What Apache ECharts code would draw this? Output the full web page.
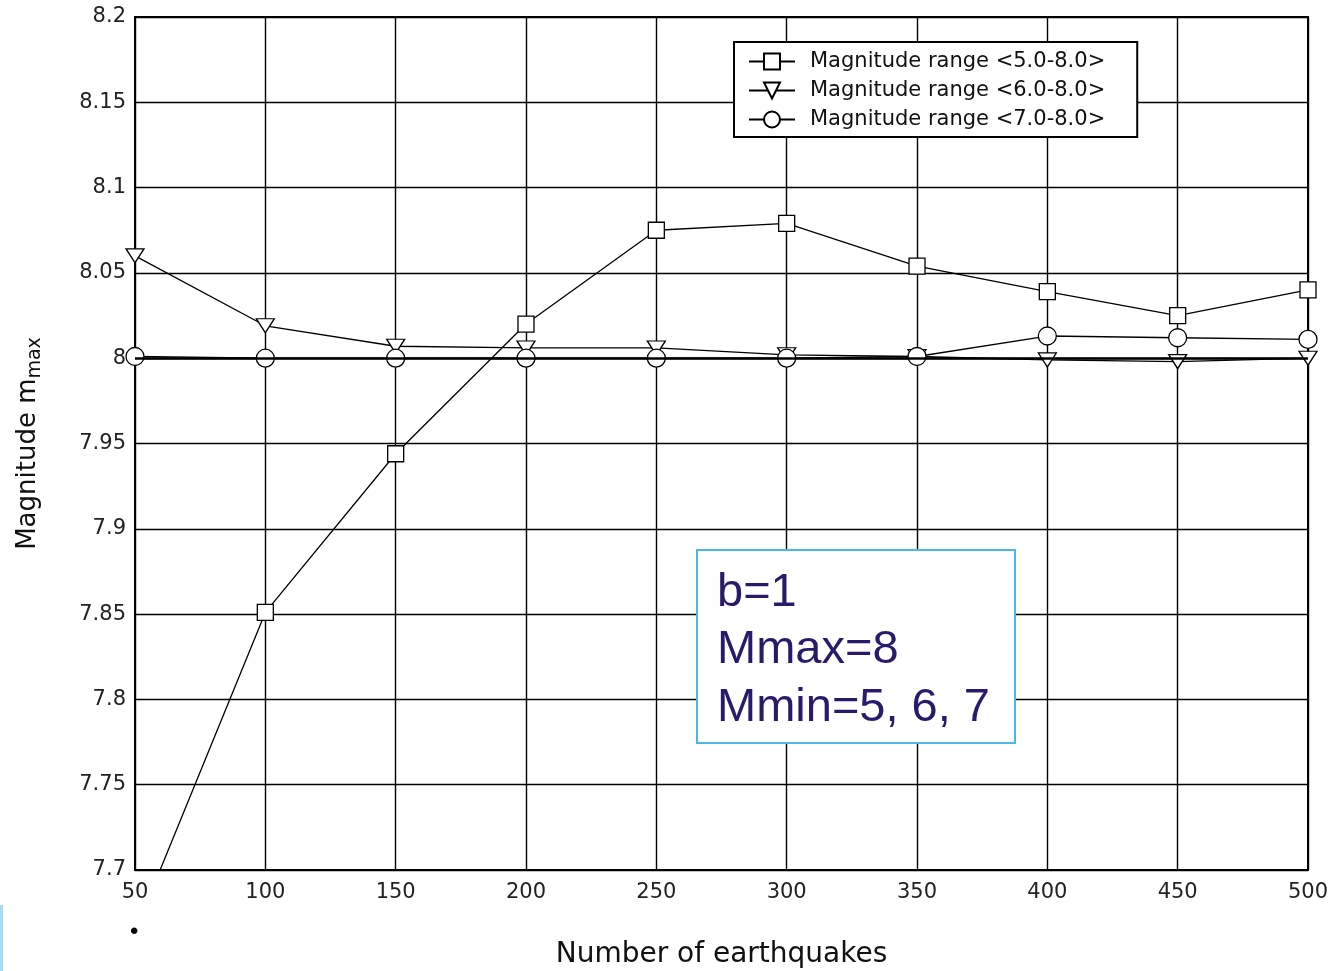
<!DOCTYPE html>
<html><head><meta charset="utf-8">
<script src="https://cdn.jsdelivr.net/npm/echarts@6/dist/echarts.min.js"></script>
<style>html,body{margin:0;padding:0;background:#fff}#c{width:1333px;height:971px}</style>
</head><body><div id="c"></div>
<script>
const xCategories = [50, 100, 150, 200, 250, 300, 350, 400, 450, 500];
const range5 = [7.664, 7.851, 7.944, 8.020, 8.075, 8.079, 8.054, 8.039, 8.025, 8.040];
const range6 = [8.060, 8.019, 8.007, 8.006, 8.006, 8.002, 8.001, 7.999, 7.998, 8.000];
const range7 = [8.001, 8.000, 8.000, 8.000, 8.000, 8.000, 8.001, 8.013, 8.012, 8.011];
const seriesNames = ['Magnitude range <5.0-8.0>', 'Magnitude range <6.0-8.0>', 'Magnitude range <7.0-8.0>'];
const trueMmax = 8;
const noteLines = ['b=1', 'Mmax=8', 'Mmin=5, 6, 7'];

const F = 'DejaVu Sans, Verdana, sans-serif';
const FA = 'Liberation Sans, Arial, sans-serif';
const pair = arr => arr.map((v, i) => [xCategories[i], v]);
const mk = (name, data, symbol, size) => ({
  name, type: 'line', data: pair(data), symbol, symbolSize: size, clip: true,
  lineStyle: { color: '#000', width: 1.3 },
  itemStyle: { color: '#fff', borderColor: '#000', borderWidth: 1.3 },
  emphasis: { disabled: true }, z: 3
});
const chart = echarts.init(document.getElementById('c'));
const s1 = mk(seriesNames[0], range5, 'rect', 16);
s1.markLine = { silent: true, symbol: 'none', label: { show: false },
  lineStyle: { color: '#000', width: 2.5, type: 'solid' }, data: [{ yAxis: trueMmax }] };
chart.setOption({
  animation: false,
  backgroundColor: '#fff',
  textStyle: { fontFamily: F },
  grid: { left: 135, right: 25, top: 17, bottom: 101, containLabel: false, outerBoundsMode: 'none',
    show: true, borderColor: '#000', borderWidth: 2, backgroundColor: 'transparent' },
  xAxis: {
    type: 'value', min: 50, max: 500, interval: 50,
    name: 'Number of earthquakes', nameLocation: 'middle', nameGap: 71,
    nameTextStyle: { fontSize: 28, color: '#111', fontFamily: F },
    axisLine: { show: true, lineStyle: { color: '#000', width: 2 } },
    axisTick: { show: false },
    axisLabel: { fontSize: 21, color: '#222', margin: 12, fontFamily: F },
    splitLine: { show: true, lineStyle: { color: '#000', width: 1.4 } }
  },
  yAxis: {
    type: 'value', min: 7.7, max: 8.2, interval: 0.05,
    name: 'Magnitude m{sub|max}', nameLocation: 'middle', nameGap: 90,
    nameTextStyle: { fontSize: 26, color: '#111', fontFamily: F,
      rich: { sub: { fontSize: 19, color: '#111', fontFamily: F, verticalAlign: 'bottom', padding: [14, 0, 0, 0] } } },
    axisLine: { show: true, lineStyle: { color: '#000', width: 2 } },
    axisTick: { show: false },
    axisLabel: { fontSize: 21, color: '#222', margin: 9, fontFamily: F,
      formatter: v => String(+v.toFixed(2)) },
    splitLine: { show: true, lineStyle: { color: '#000', width: 1.4 } }
  },
  legend: {
    left: 734, top: 42, orient: 'vertical', backgroundColor: '#fff',
    borderColor: '#000', borderWidth: 2, padding: [9, 32, 7, 14], itemGap: 8,
    itemWidth: 46, itemHeight: 20, selectedMode: false,
    textStyle: { fontSize: 21, color: '#111', fontFamily: F, padding: [0, 0, 0, 10] },
    data: seriesNames
  },
  series: [
    s1,
    mk(seriesNames[1], range6, 'path://M0,0 L18,0 L9,14 Z', [18, 14]),
    mk(seriesNames[2], range7, 'circle', 18)
  ],
  graphic: [
    { type: 'rect', shape: { x: 697, y: 550, width: 318, height: 193 },
      style: { fill: '#fff', stroke: '#4ab8e8', lineWidth: 2 }, z: 100 },
    { type: 'text', left: 717, top: 564, z: 101,
      style: { text: noteLines.join('\n'), fontSize: 47, lineHeight: 57.5, fill: '#2a1a6b', fontFamily: FA } },
    { type: 'text', left: 130, top: 920, z: 101, style: { text: '•', fontSize: 24, fill: '#000', fontFamily: FA } },
    { type: 'rect', shape: { x: 0, y: 905, width: 3, height: 66 }, style: { fill: '#a8dcf4' }, z: 100 }
  ]
});
</script></body></html>
